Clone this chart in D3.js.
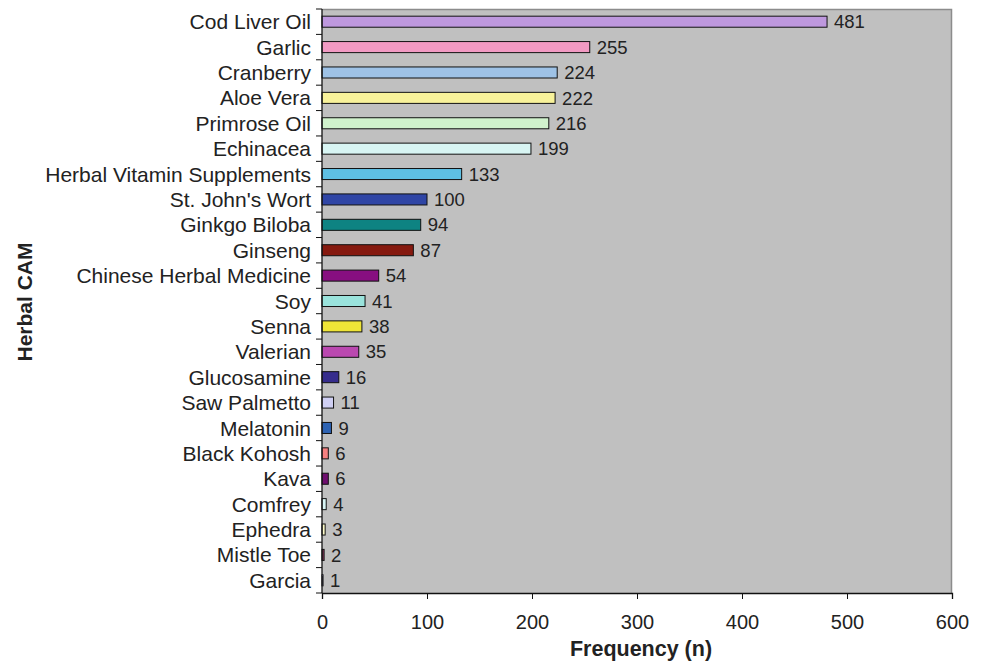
<!DOCTYPE html>
<html>
<head>
<meta charset="utf-8">
<script src="https://cdn.jsdelivr.net/npm/d3@7"></script>
<style>
  html, body { margin: 0; padding: 0; background: #ffffff; }
  svg { display: block; font-family: "Liberation Sans", Arial, Helvetica, sans-serif; }
</style>
</head>
<body>
<svg id="chart" width="985" height="661"></svg>
<script>
// Herbal CAM products by reported frequency of use
const categories = [
  "Cod Liver Oil", "Garlic", "Cranberry", "Aloe Vera", "Primrose Oil", "Echinacea",
  "Herbal Vitamin Supplements", "St. John's Wort", "Ginkgo Biloba", "Ginseng",
  "Chinese Herbal Medicine", "Soy", "Senna", "Valerian", "Glucosamine", "Saw Palmetto",
  "Melatonin", "Black Kohosh", "Kava", "Comfrey", "Ephedra", "Mistle Toe", "Garcia"
];
const frequencies = [481, 255, 224, 222, 216, 199, 133, 100, 94, 87, 54, 41, 38, 35, 16, 11, 9, 6, 6, 4, 3, 2, 1];
const barColors = [
  "#BE98DE", "#F29AC3", "#9EC2E6", "#F8F29A", "#D0F2CC", "#D8F5F3",
  "#5EC0E4", "#2F45A5", "#0E8382", "#85190F", "#870F80", "#9AE3DC",
  "#EFE537", "#BA48B0", "#362C8C", "#CFCFF3", "#2E63B3", "#F68080",
  "#6F0E6F", "#D8F5F5", "#FBF9C8", "#8E3A62", "#9C9CE0"
];
const xTicks = [0, 100, 200, 300, 400, 500, 600];
const xTitle = "Frequency (n)";
const yTitle = "Herbal CAM";

const margin = { top: 9, left: 322 };
const width = 630, height = 584;

const svg = d3.select("#chart");
const g = svg.append("g").attr("transform", `translate(${margin.left},${margin.top})`);

const x = d3.scaleLinear().domain([0, 600]).range([0, width]);
const y = d3.scaleBand()
  .domain(categories)
  .range([0, height])
  .paddingInner(0.565)
  .paddingOuter(0.2825);

// plot background
g.append("rect")
  .attr("width", width).attr("height", height)
  .attr("fill", "#C0C0C0");

// top and right frame
g.append("path")
  .attr("d", `M0,0.5H${width - 0.5}V${height}`)
  .attr("fill", "none").attr("stroke", "#8C8C8C").attr("stroke-width", 1.5);

// bars
const rows = categories.map((c, i) => ({ name: c, value: frequencies[i], color: barColors[i] }));

g.selectAll("rect.bar")
  .data(rows)
  .join("rect")
  .attr("class", "bar")
  .attr("x", 0)
  .attr("y", d => y(d.name))
  .attr("width", d => x(d.value))
  .attr("height", y.bandwidth())
  .attr("fill", d => d.color)
  .attr("stroke", "#111")
  .attr("stroke-width", 1);

// value labels
g.selectAll("text.val")
  .data(rows)
  .join("text")
  .attr("class", "val")
  .attr("x", d => x(d.value) + 7)
  .attr("y", d => y(d.name) + y.bandwidth() / 2)
  .attr("dy", "0.36em")
  .attr("font-size", 18.5)
  .attr("fill", "#222")
  .text(d => d.value);

// category axis: tick marks at band boundaries, labels right-aligned
const step = y.step();
g.append("g")
  .selectAll("line")
  .data(d3.range(categories.length + 1))
  .join("line")
  .attr("x1", -6).attr("x2", 0)
  .attr("y1", k => k * step).attr("y2", k => k * step)
  .attr("stroke", "#111");

g.append("g")
  .selectAll("text")
  .data(categories)
  .join("text")
  .attr("x", -11)
  .attr("y", d => y(d) + y.bandwidth() / 2)
  .attr("dy", "0.36em")
  .attr("text-anchor", "end")
  .attr("font-size", 21)
  .attr("fill", "#222")
  .text(d => d);

g.append("line")
  .attr("x1", 0).attr("x2", 0)
  .attr("y1", 0).attr("y2", height)
  .attr("stroke", "#111").attr("stroke-width", 1.3);

// frequency axis
const xAxis = g.append("g")
  .attr("transform", `translate(0,${height})`)
  .call(d3.axisBottom(x).tickValues(xTicks).tickSize(6).tickFormat(d3.format("d")));
xAxis.select(".domain").attr("stroke", "#111").attr("stroke-width", 1.3);
xAxis.selectAll(".tick line").attr("stroke", "#111");
xAxis.selectAll(".tick text")
  .attr("y", 36).attr("dy", 0)
  .attr("font-size", 20)
  .attr("font-family", "'Liberation Sans', Arial, sans-serif")
  .attr("fill", "#222");

// axis titles
svg.append("text")
  .attr("x", 641).attr("y", 656)
  .attr("text-anchor", "middle")
  .attr("font-size", 21.5).attr("font-weight", "bold")
  .attr("fill", "#222")
  .text(xTitle);

svg.append("text")
  .attr("transform", "translate(24,302) rotate(-90)")
  .attr("text-anchor", "middle")
  .attr("dy", "0.36em")
  .attr("font-size", 21).attr("font-weight", "bold")
  .attr("fill", "#222")
  .text(yTitle);
</script>
</body>
</html>
